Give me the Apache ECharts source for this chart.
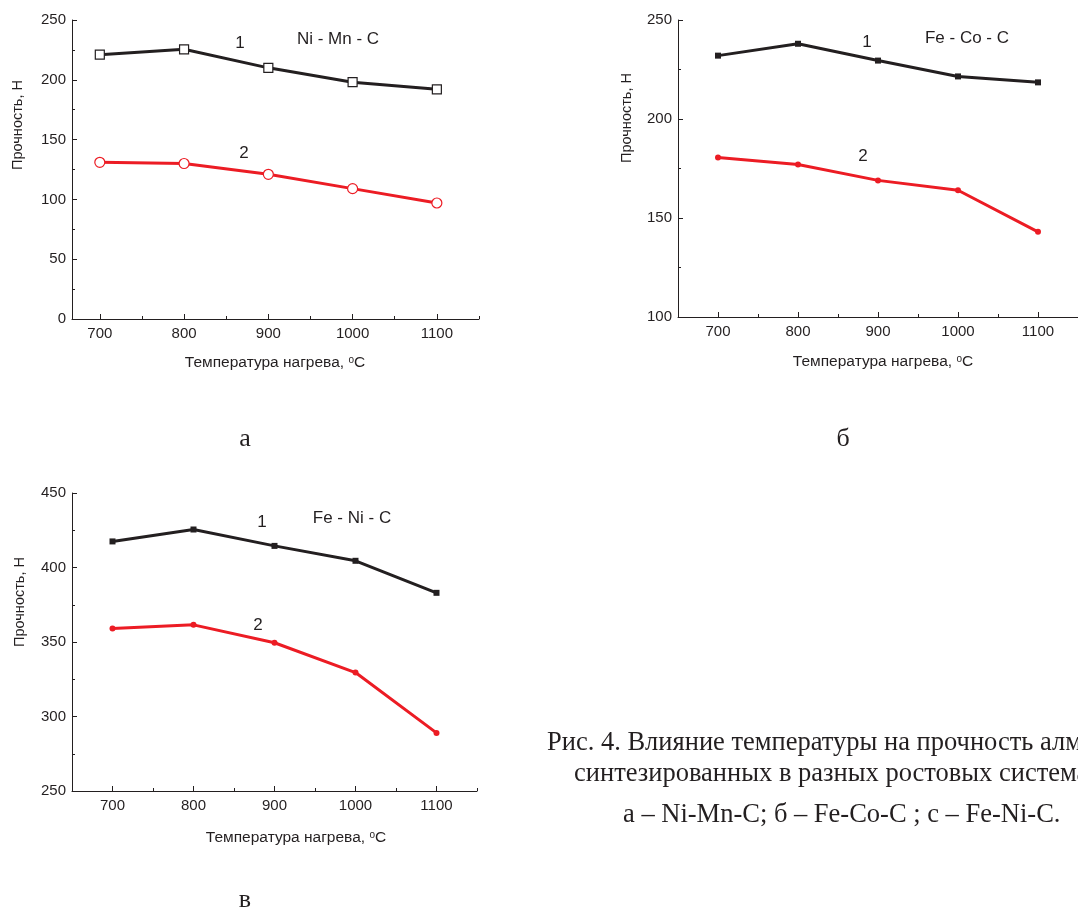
<!DOCTYPE html>
<html>
<head>
<meta charset="utf-8">
<script src="https://cdn.jsdelivr.net/npm/echarts@6/dist/echarts.min.js"></script>
<style>
  html, body { margin: 0; padding: 0; background: #fff; }
  #chart { width: 1078px; height: 922px; }
</style>
</head>
<body>
<div id="chart"></div>
<script>
  // температура нагрева, °C
  var temps = [700, 800, 900, 1000, 1100]
  var majorTicks = [700, 800, 900, 1000, 1100]
  var minorTicks = [750, 850, 950, 1050, 1150]

  // а: Ni - Mn - C
  var niMn1 = [221, 225.5, 210, 198, 192]
  var niMn2 = [131, 130, 121, 109, 97]
  // б: Fe - Co - C
  var feCo1 = [232, 238, 229.5, 221.5, 218.5]
  var feCo2 = [180.5, 177, 169, 164, 143]
  // в: Fe - Ni - C
  var feNi1 = [417.5, 425.5, 414.5, 404.5, 383]
  var feNi2 = [359, 361.5, 349.5, 329.5, 289]

  var font = 'Liberation Sans'
  var ink = '#231f20'
  var red = '#ec1c24'

  function pairs (ys) {
    return temps.map(function (t, i) { return [t, ys[i]] })
  }

  function plain (v) { return String(v) }

  function xAxes (grid, min) {
    return [{
      type: 'value', gridIndex: grid, position: 'bottom', min: min, max: 1150,
      axisLine: { lineStyle: { color: ink, width: 1 } },
      axisTick: { inside: true, length: 5, customValues: majorTicks, lineStyle: { color: ink } },
      axisLabel: { customValues: majorTicks, formatter: plain, color: ink, fontFamily: font, fontSize: 15, margin: 7 },
      splitLine: { show: false }
    }, {
      type: 'value', gridIndex: grid, position: 'bottom', min: min, max: 1150,
      axisLine: { show: false },
      axisTick: { inside: true, length: 3, customValues: minorTicks, lineStyle: { color: ink } },
      axisLabel: { show: false },
      splitLine: { show: false }
    }]
  }

  function yAxes (grid, min, max, minor) {
    return [{
      type: 'value', gridIndex: grid, position: 'left', min: min, max: max, interval: 50,
      axisLine: { show: true, lineStyle: { color: ink, width: 1 } },
      axisTick: { show: true, inside: true, length: 5, lineStyle: { color: ink } },
      axisLabel: { formatter: plain, color: ink, fontFamily: font, fontSize: 15, margin: 6 },
      splitLine: { show: false }
    }, {
      type: 'value', gridIndex: grid, position: 'left', min: min, max: max,
      axisLine: { show: false },
      axisTick: { show: true, inside: true, length: 3, customValues: minor, lineStyle: { color: ink } },
      axisLabel: { show: false },
      splitLine: { show: false }
    }]
  }

  function line (xi, yi, ys, color, symbol, size, open) {
    return {
      type: 'line', xAxisIndex: xi, yAxisIndex: yi, data: pairs(ys),
      symbol: symbol, symbolSize: size, showSymbol: true,
      lineStyle: { color: color, width: 3 },
      itemStyle: open ? { color: '#fff', borderColor: color, borderWidth: 1.2 } : { color: color, borderWidth: 0 },
      z: 3
    }
  }

  function txt (x, y, s, size, opts) {
    var st = { text: s, x: 0, y: 0, fill: ink, font: size + 'px ' + font, align: 'center', verticalAlign: 'middle' }
    var el = { type: 'text', x: x, y: y, style: st }
    if (opts) { for (var k in opts) el[k] = opts[k] }
    return el
  }

  function xName (x, y) {
    return {
      type: 'text', x: x, y: y,
      style: {
        text: '{n|Температура нагрева, }{s|o}{n|C}',
        align: 'center', verticalAlign: 'middle',
        rich: {
          n: { fontFamily: font, fontSize: 15.5, fill: ink, verticalAlign: 'bottom' },
          s: { fontFamily: font, fontSize: 10, fill: ink, verticalAlign: 'top' }
        }
      }
    }
  }

  function serif (x, y, s, size, align) {
    return { type: 'text', x: x, y: y, style: { text: s, fill: ink, font: size + 'px "Liberation Serif"', align: align || 'left', verticalAlign: 'middle' } }
  }

  var myChart = echarts.init(document.getElementById('chart'))
  myChart.setOption({
    animation: false,
    grid: [
      { left: 72, top: 20, width: 407, height: 299 },
      { left: 678, top: 20, width: 408, height: 297 },
      { left: 72, top: 493, width: 405, height: 298 }
    ],
    xAxis: [].concat(xAxes(0, 667), xAxes(1, 650), xAxes(2, 650)),
    yAxis: [].concat(
      yAxes(0, 0, 250, [25, 75, 125, 175, 225]),
      yAxes(1, 100, 250, [125, 175, 225]),
      yAxes(2, 250, 450, [275, 325, 375, 425])
    ),
    series: [
      line(0, 0, niMn1, ink, 'rect', 9, true),
      line(0, 0, niMn2, red, 'circle', 10, true),
      line(2, 2, feCo1, ink, 'rect', 6, false),
      line(2, 2, feCo2, red, 'circle', 6, false),
      line(4, 4, feNi1, ink, 'rect', 6, false),
      line(4, 4, feNi2, red, 'circle', 6, false)
    ],
    graphic: [
      // подписи кривых и систем
      txt(240, 43, '1', 17), txt(338, 39, 'Ni - Mn - C', 17), txt(244, 153, '2', 17),
      txt(867, 42, '1', 17), txt(967, 38, 'Fe - Co - C', 17), txt(863, 156, '2', 17),
      txt(262, 522, '1', 17), txt(352, 518, 'Fe - Ni - C', 17), txt(258, 625, '2', 17),
      // названия осей
      txt(18, 125, 'Прочность, Н', 14.5, { rotation: Math.PI / 2 }),
      txt(627, 118, 'Прочность, Н', 14.5, { rotation: Math.PI / 2 }),
      txt(20, 602, 'Прочность, Н', 14.5, { rotation: Math.PI / 2 }),
      xName(275, 363),
      xName(883, 362),
      xName(296, 838),
      // подрисуночные подписи
      serif(245, 439, 'а', 26, 'center'),
      serif(843, 439, 'б', 26, 'center'),
      serif(245, 900, 'в', 26, 'center'),
      serif(547, 743, 'Рис. 4. Влияние температуры на прочность алмазов,', 26.5),
      serif(574, 774, 'синтезированных в разных ростовых системах:', 26.5),
      serif(623, 815, 'а – Ni-Mn-C; б – Fe-Co-C ; с – Fe-Ni-C.', 26.5)
    ]
  })
</script>
</body>
</html>
